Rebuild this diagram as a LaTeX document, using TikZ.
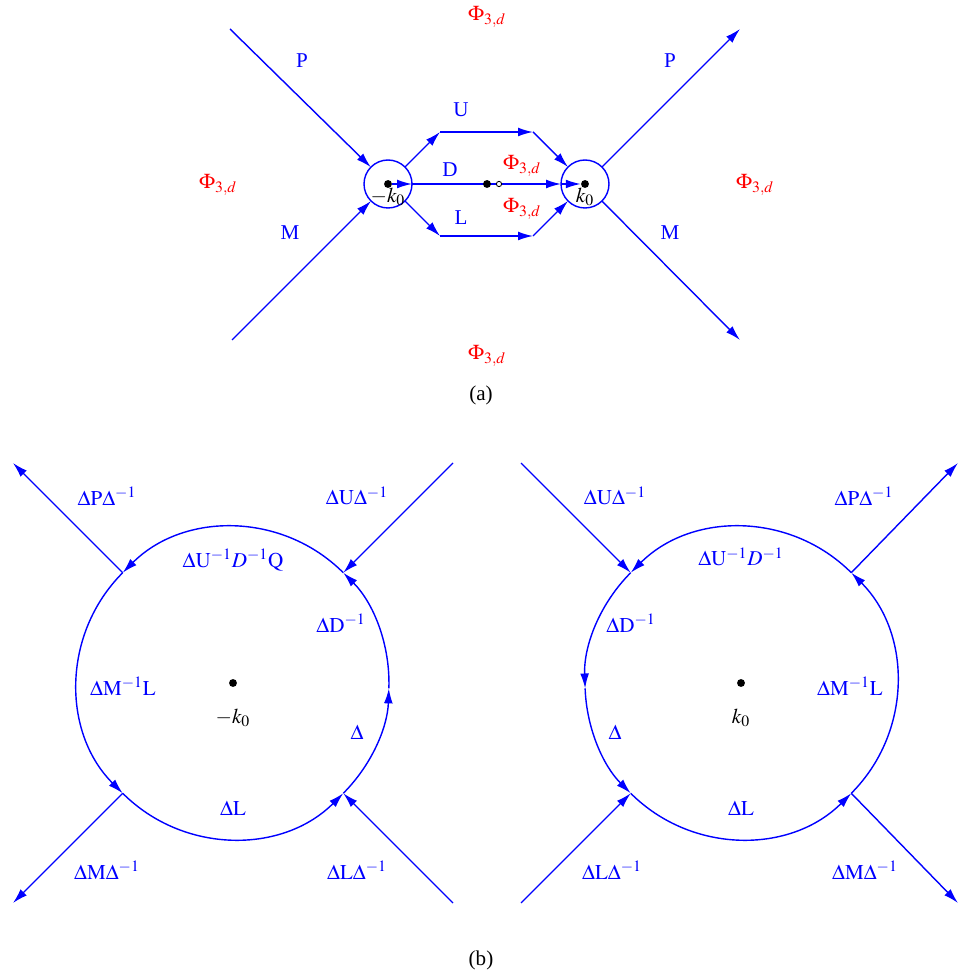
\documentclass[tikz,border=0pt]{standalone}
\usepackage{mathptmx}
\usepackage{fontspec}
\setmainfont{Liberation Serif}
\usetikzlibrary{arrows.meta}

\begin{document}
\begin{tikzpicture}[x=0.02cm,y=0.02cm,
          every node/.style={font=\fontsize{12}{14}\selectfont},
          wire/.style={blue,line width=0.8pt,-{Latex[length=8.5pt,width=5pt]}},
          lbl/.style={blue},
          phase/.style={red},
          ring/.style={circle,draw=blue,line width=0.8pt,inner sep=0pt,outer sep=0pt},
          dot/.style={circle,fill=black,inner sep=0pt,minimum size=4.5pt}]
        \useasboundingbox (0,0) rectangle (959,975);
        % (a) the two small circles
        \node[ring,minimum size=0.96cm] (lc) at (388,791) {};
        \node[ring,minimum size=0.96cm] (rc) at (585,791) {};
        \coordinate (pl) at (230,946);
        \coordinate (ml) at (232,635);
        \coordinate (pr) at (740,946);
        \coordinate (mr) at (740,635);
        \coordinate (u1) at (440,843);
        \coordinate (u2) at (533,843);
        \coordinate (l1) at (440,739);
        \coordinate (l2) at (533,739);
        \foreach \x/\y in {pl/lc,ml/lc,lc.45/u1,u1/u2,u2/rc.135,lc.-45/l1,l1/l2,l2/rc.-135,rc/pr,rc/mr,lc.east/rc.west}
        \draw[wire] (\x)--(\y);
        \node[dot] (ld) at (388,791) {};
        \node[dot] (rd) at (585,791) {};
        \draw[wire] (ld)--(lc.east);
        \draw[wire] (rc.west)--(rd);
        \node[dot] (md) at (487,791) {};
        \node[circle,draw=black,fill=white,inner sep=0pt,minimum size=3pt,line width=0.5pt] (mo) at (499,791) {};
        \node[lbl] (tP1) at (302,914) {P};
        \node[lbl] (tM1) at (290,742) {M};
        \node[lbl] (tP2) at (670,914) {P};
        \node[lbl] (tM2) at (670,742) {M};
        \node[lbl] (tU) at (461,865) {U};
        \node[lbl] (tD) at (450,805) {D};
        \node[lbl] (tL) at (461,757) {L};
        \node[phase] (f1) at (487,958) {$\Phi_{3,d}$};
        \node[phase] (f2) at (218,790) {$\Phi_{3,d}$};
        \node[phase] (f3) at (755,790) {$\Phi_{3,d}$};
        \node[phase] (f4) at (487,619) {$\Phi_{3,d}$};
        \node[phase] (f5) at (522,809) {$\Phi_{3,d}$};
        \node[phase] (f6) at (522,766) {$\Phi_{3,d}$};
        \node (kl) at (388,778) {$-k_0$};
        \node (kr) at (585,778) {$k_0$};
        \node (capa) at (481,580) {(a)};
        % (b) left circle around -k0
        \node[circle,inner sep=0pt,outer sep=0pt,minimum size=6.24cm] (L) at (233,292) {};
        \node[dot] (Ld) at (233,292) {};
        \coordinate (Ltl) at (13,512);
        \coordinate (Ltr) at (453,512);
        \coordinate (Lbl) at (13,72);
        \coordinate (Lbr) at (453,72);
        \foreach \s/\e in {45/135,135/225,225/315,315/358,358/405}
        \draw[wire] (L.\s) arc[start angle=\s,end angle=\e,radius=3.12cm];
        \foreach \x/\y in {L.135/Ltl,Ltr/L.45,L.225/Lbl,Lbr/L.315}
        \draw[wire] (\x)--(\y);
        \node[lbl] (a1) at (107,479) {$\Delta\mathrm{P}\Delta^{-1}$};
        \node[lbl] (a2) at (357,479) {$\Delta\mathrm{U}\Delta^{-1}$};
        \node[lbl] (a3) at (233,415) {$\Delta\mathrm{U}^{-1}D^{-1}\mathrm{Q}$};
        \node[lbl] (a4) at (341,352) {$\Delta\mathrm{D}^{-1}$};
        \node[lbl] (a5) at (123,289) {$\Delta\mathrm{M}^{-1}\mathrm{L}$};
        \node (a6) at (233,257) {$-k_0$};
        \node[lbl] (a7) at (357,243) {$\Delta$};
        \node[lbl] (a8) at (233,167) {$\Delta\mathrm{L}$};
        \node[lbl] (a9) at (107,105) {$\Delta\mathrm{M}\Delta^{-1}$};
        \node[lbl] (a10) at (357,105) {$\Delta\mathrm{L}\Delta^{-1}$};
        % (b) right circle around k0
        \node[circle,inner sep=0pt,outer sep=0pt,minimum size=6.24cm] (R) at (741,292) {};
        \node[dot] (Rd) at (741,292) {};
        \coordinate (Rtl) at (521,512);
        \coordinate (Rtr) at (958,512);
        \coordinate (Rbl) at (521,72);
        \coordinate (Rbr) at (958,72);
        \foreach \s/\e in {45/135,135/182,182/225,225/315,315/405}
        \draw[wire] (R.\s) arc[start angle=\s,end angle=\e,radius=3.12cm];
        \foreach \x/\y in {Rtl/R.135,R.45/Rtr,Rbl/R.225,R.315/Rbr}
        \draw[wire] (\x)--(\y);
        \node[lbl] (b1) at (615,479) {$\Delta\mathrm{U}\Delta^{-1}$};
        \node[lbl] (b2) at (864,479) {$\Delta\mathrm{P}\Delta^{-1}$};
        \node[lbl] (b3) at (741,418) {$\Delta\mathrm{U}^{-1}D^{-1}$};
        \node[lbl] (b4) at (631,352) {$\Delta\mathrm{D}^{-1}$};
        \node[lbl] (b5) at (850,289) {$\Delta\mathrm{M}^{-1}\mathrm{L}$};
        \node (b6) at (741,257) {$k_0$};
        \node[lbl] (b7) at (615,243) {$\Delta$};
        \node[lbl] (b8) at (741,167) {$\Delta\mathrm{L}$};
        \node[lbl] (b9) at (612,105) {$\Delta\mathrm{L}\Delta^{-1}$};
        \node[lbl] (b10) at (865,105) {$\Delta\mathrm{M}\Delta^{-1}$};
        \node (capb) at (481,15) {(b)};
      \end{tikzpicture}
\end{document}
